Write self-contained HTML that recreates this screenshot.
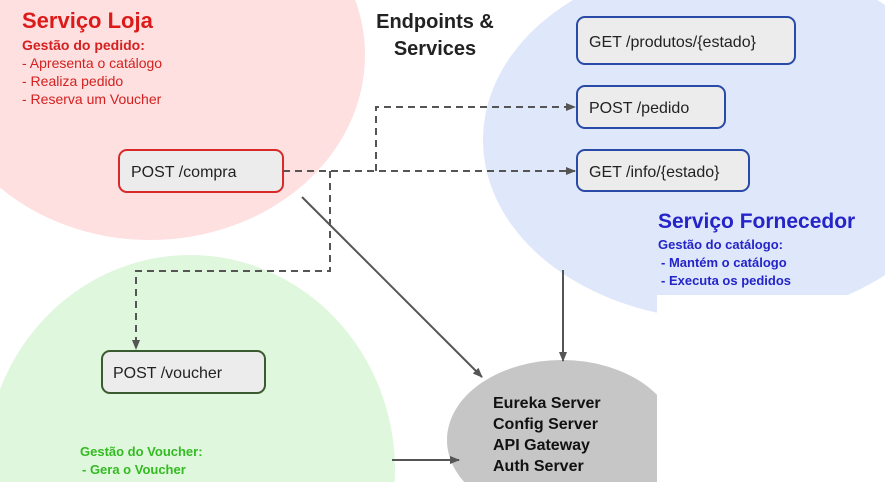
<!DOCTYPE html>
<html><head><meta charset="utf-8"><style>
html,body{margin:0;padding:0;background:#fff;width:885px;height:482px;overflow:hidden;}
svg{display:block;font-family:"Liberation Sans",sans-serif;}
</style></head><body>
<svg width="885" height="482" viewBox="0 0 885 482" xmlns="http://www.w3.org/2000/svg">
<defs>
<marker id="a" markerWidth="10" markerHeight="10" refX="9" refY="5" orient="auto" markerUnits="userSpaceOnUse"><path d="M0,1 L10,5 L0,9 Z" fill="#555"/></marker>
</defs>
<ellipse cx="150" cy="55" rx="215" ry="185" fill="#fde0df"/>
<ellipse cx="725" cy="140" rx="242" ry="180" fill="#dfe8fb"/>
<ellipse cx="190" cy="470" rx="205" ry="215" fill="#dff7dc"/>
<ellipse cx="562" cy="440" rx="115" ry="80" fill="#c6c6c6"/>
<rect x="657" y="295" width="228" height="187" fill="#fff"/>

<text x="435" y="28" font-size="20" font-weight="bold" text-anchor="middle" fill="#222">Endpoints &amp;</text>
<text x="435" y="55" font-size="20" font-weight="bold" text-anchor="middle" fill="#222">Services</text>

<text x="22" y="28" font-size="22" font-weight="bold" fill="#dd1a1a">Serviço Loja</text>
<text x="22" y="50" font-size="14" font-weight="bold" fill="#d42020">Gestão do pedido:</text>
<text x="22" y="68" font-size="14" fill="#d42020">- Apresenta o catálogo</text>
<text x="22" y="86" font-size="14" fill="#d42020">- Realiza pedido</text>
<text x="22" y="104" font-size="14" fill="#d42020">- Reserva um Voucher</text>

<text x="658" y="228" font-size="21" font-weight="bold" fill="#2424c8">Serviço Fornecedor</text>
<text x="658" y="249" font-size="13" font-weight="bold" fill="#2424c8">Gestão do catálogo:</text>
<text x="661" y="267" font-size="13" font-weight="bold" fill="#2424c8">- Mantém o catálogo</text>
<text x="661" y="285" font-size="13" font-weight="bold" fill="#2424c8">- Executa os pedidos</text>

<text x="80" y="456" font-size="13" font-weight="bold" fill="#33bb22">Gestão do Voucher:</text>
<text x="82" y="474" font-size="13" font-weight="bold" fill="#33bb22">- Gera o Voucher</text>

<g font-size="16" font-weight="bold" fill="#111">
<text x="493" y="408">Eureka Server</text>
<text x="493" y="429">Config Server</text>
<text x="493" y="450">API Gateway</text>
<text x="493" y="471">Auth Server</text>
</g>

<g fill="#ececec" stroke-width="2">
<rect x="119" y="150" width="164" height="42" rx="8" stroke="#d82a2a"/>
<rect x="577" y="17" width="218" height="47" rx="8" stroke="#2a4aa8"/>
<rect x="577" y="86" width="148" height="42" rx="8" stroke="#2a4aa8"/>
<rect x="577" y="150" width="172" height="41" rx="8" stroke="#2a4aa8"/>
<rect x="102" y="351" width="163" height="42" rx="8" stroke="#3a5a30"/>
</g>
<g font-size="16" fill="#222">
<text x="131" y="177">POST /compra</text>
<text x="589" y="47">GET /produtos/{estado}</text>
<text x="589" y="113">POST /pedido</text>
<text x="589" y="177">GET /info/{estado}</text>
<text x="113" y="378">POST /voucher</text>
</g>

<g stroke="#555" stroke-width="2" fill="none" stroke-dasharray="7,5">
<path d="M283 171 H575" marker-end="url(#a)"/>
<path d="M376 171 V107 H575" marker-end="url(#a)"/>
<path d="M330 171 V271 H136 V349" marker-end="url(#a)"/>
</g>
<g stroke="#555" stroke-width="2" fill="none">
<path d="M302 197 L482 377" marker-end="url(#a)"/>
<path d="M563 270 V361" marker-end="url(#a)"/>
<path d="M392 460 H459" marker-end="url(#a)"/>
</g>
</svg>
</body></html>
